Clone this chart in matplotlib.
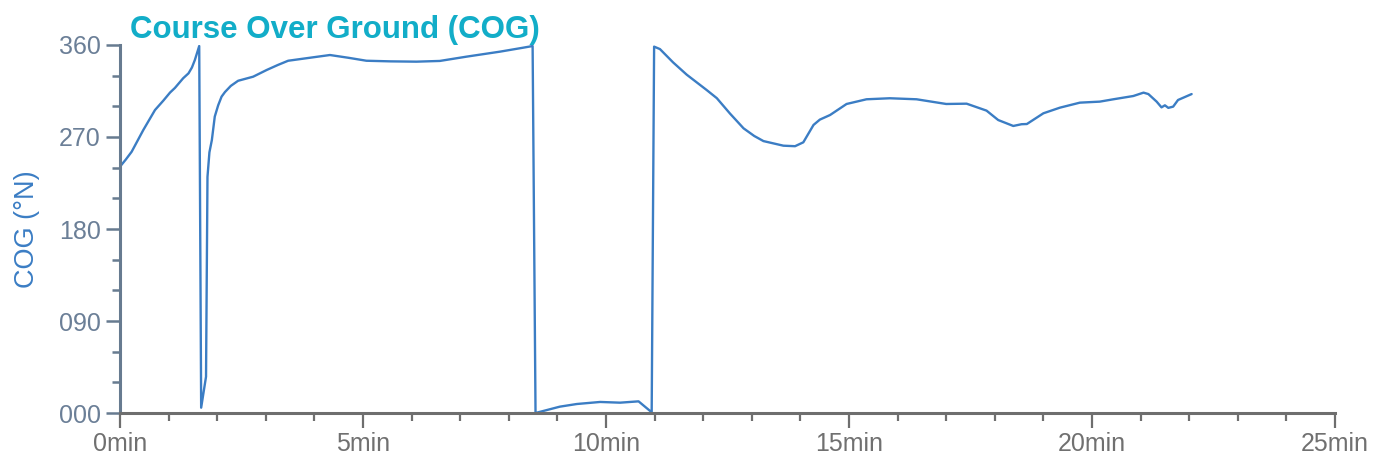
import numpy as np
import matplotlib
matplotlib.use("Agg")
import matplotlib.pyplot as plt
from matplotlib.ticker import MultipleLocator, FuncFormatter

# ---- data (time in minutes, COG in degrees) ----
time_min = [0.00, 0.12, 0.24, 0.48, 0.72, 0.89, 1.03, 1.13, 1.30, 1.41, 1.48, 1.54, 1.63,
            1.67, 1.77, 1.80, 1.84, 1.89, 1.95, 2.02, 2.09, 2.16, 2.28, 2.43, 2.74, 3.02, 3.25,
            3.46, 3.98, 4.32, 4.70, 5.07, 5.56, 6.10, 6.58, 7.13, 7.82, 8.30, 8.49,
            8.55, 9.05, 9.40, 9.88, 10.29, 10.67, 10.94,
            10.99, 11.11, 11.38, 11.66, 12.07, 12.28, 12.55, 12.83, 13.05, 13.24,
            13.65, 13.89, 14.06, 14.27, 14.40, 14.61, 14.95, 15.36, 15.84, 16.39,
            17.00, 17.42, 17.83, 18.07, 18.38, 18.55, 18.66, 19.00, 19.34,
            19.75, 20.16, 20.44, 20.85, 21.06, 21.16, 21.33, 21.43, 21.50,
            21.57, 21.67, 21.77, 22.05]
cog_deg = [241, 248, 255.6, 276.9, 296.4, 305.5, 313.5, 318, 327.5, 332.3, 338, 345.3, 359,
           5.2, 35.5, 231, 255, 267, 290, 301, 309.5, 314, 320, 325, 329, 335.6, 340.5,
           344.6, 348, 350.2, 347.5, 344.6, 344.0, 343.7, 344.4, 348.6, 353.5, 357.4, 359,
           0, 6.2, 8.8, 10.8, 10.1, 11.4, 0.7,
           358.4, 356, 343, 331, 316, 308, 293, 278.5, 271, 266,
           261.5, 261, 264.8, 281.8, 287, 291.5, 302.3, 306.9, 307.9, 306.9,
           302.3, 302.6, 295.8, 286.6, 280.8, 282.5, 282.7, 293.2, 298.7,
           303.6, 304.6, 306.9, 310.1, 313.4, 312, 304.6, 299, 301,
           298.5, 299.7, 306.2, 312]

x_ticks = [0, 5, 10, 15, 20, 25]
y_ticks = [0, 90, 180, 270, 360]

line_color = "#3b7dc4"
title_color = "#12adc8"
ytick_color = "#6b7f97"
xtick_color = "#707070"

plt.rcParams["font.family"] = ["Liberation Sans", "DejaVu Sans"]

fig = plt.figure(figsize=(13.85, 4.65), dpi=100)
ax = fig.add_axes([120 / 1385, 1 - 413 / 465, 1215 / 1385, 368 / 465])

ax.plot(time_min, cog_deg, color=line_color, linewidth=1.7,
        solid_joinstyle="round", solid_capstyle="round")

ax.set_xlim(0, 25)
ax.set_ylim(0, 360)

for s in ["top", "right"]:
    ax.spines[s].set_visible(False)
ax.spines["left"].set_color("#677b90")
ax.spines["left"].set_linewidth(2.2)
ax.spines["bottom"].set_color("#6e6e6e")
ax.spines["bottom"].set_linewidth(2.2)

ax.set_xticks(x_ticks)
ax.set_yticks(y_ticks)
ax.xaxis.set_minor_locator(MultipleLocator(1))
ax.yaxis.set_minor_locator(MultipleLocator(30))
ax.xaxis.set_major_formatter(FuncFormatter(lambda v, p: f"{v:.0f}min"))
ax.yaxis.set_major_formatter(FuncFormatter(lambda v, p: f"{v:03.0f}"))

ax.tick_params(axis="x", which="major", direction="out", length=11, width=1.6,
               color="#6e6e6e", labelcolor=xtick_color, labelsize=18, pad=3)
ax.tick_params(axis="x", which="minor", direction="out", length=6, width=1.6,
               color="#6e6e6e")
ax.tick_params(axis="y", which="major", direction="out", length=10, width=1.8,
               color="#677b90", labelcolor=ytick_color, labelsize=18, pad=4)
ax.tick_params(axis="y", which="minor", direction="out", length=6, width=1.8,
               color="#677b90")

ax.set_ylabel("COG (°N)", color=line_color, fontsize=19.5, labelpad=13)

fig.text(130 / 1385, 1 - 38 / 465, "Course Over Ground (COG)", color=title_color,
         fontsize=22.5, fontweight="bold", ha="left", va="baseline")

fig.savefig("out.png", dpi=100)
